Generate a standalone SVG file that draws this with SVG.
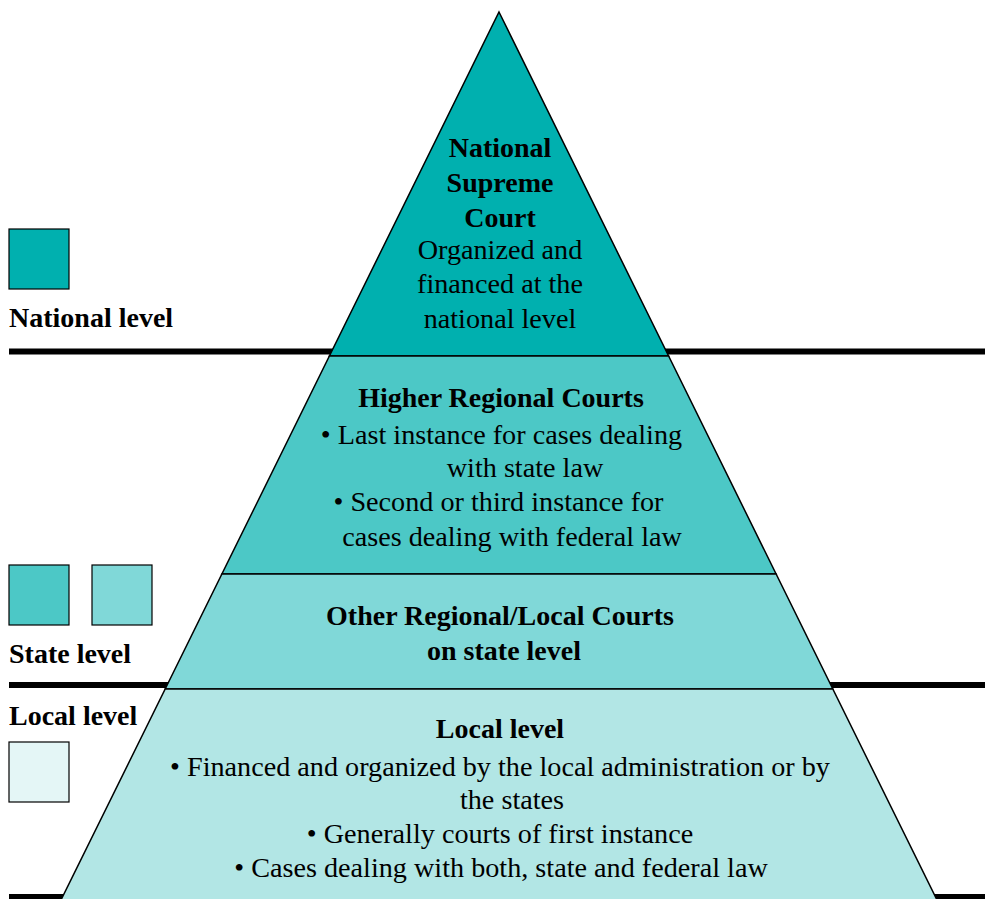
<svg xmlns="http://www.w3.org/2000/svg" width="985" height="899" viewBox="0 0 985 899">
<style>
.b{font-family:"Liberation Serif","Times New Roman",serif;font-weight:bold;font-size:28px;fill:#000}
.r{font-family:"Liberation Serif","Times New Roman",serif;font-size:28.2px;fill:#000}
.c{text-anchor:middle}
.sec{stroke:#000;stroke-width:1.5;stroke-linejoin:miter}
.sq{stroke:#000;stroke-width:1.2}
.rule{fill:#000}
</style>
<rect width="985" height="899" fill="#fff"/>
<g id="rules">
<rect class="rule" x="9" y="348.5" width="976" height="6"/>
<rect class="rule" x="9" y="682" width="976" height="6"/>
<rect class="rule" x="9" y="894" width="976" height="6"/>
</g>
<g id="national">
<polygon class="sec" fill="#00B0AF" points="499,12 668.6,356 329.4,356"/>
<text class="b c" x="500" y="157">National</text>
<text class="b c" x="500" y="192">Supreme</text>
<text class="b c" x="500" y="227">Court</text>
<text class="r c" x="500" y="259">Organized and</text>
<text class="r c" x="500" y="293">financed at the</text>
<text class="r c" x="500" y="328">national level</text>
</g>
<g id="higher">
<polygon class="sec" fill="#4CC8C6" points="329.4,356 668.6,356 776.1,574 221.9,574"/>
<text class="b c" x="501" y="407">Higher Regional Courts</text>
<text class="r c" x="501.5" y="444">• Last instance for cases dealing</text>
<text class="r c" x="525" y="477">with state law</text>
<text class="r c" x="498.5" y="511">• Second or third instance for</text>
<text class="r c" x="512" y="546">cases dealing with federal law</text>
</g>
<g id="other">
<polygon class="sec" fill="#80D8D8" points="221.9,574 776.1,574 832.8,689 165.2,689"/>
<text class="b c" x="500" y="625">Other Regional/Local Courts</text>
<text class="b c" x="504" y="660">on state level</text>
</g>
<g id="local">
<polygon class="sec" fill="#B2E6E5" points="165.2,689 832.8,689 938.5,903 59.5,903"/>
<text class="b c" x="500" y="738">Local level</text>
<text class="r c" x="500" y="776">• Financed and organized by the local administration or by</text>
<text class="r c" x="512" y="809">the states</text>
<text class="r c" x="500" y="843">• Generally courts of first instance</text>
<text class="r c" x="501" y="877">• Cases dealing with both, state and federal law</text>
</g>
<g id="legend-national">
<rect class="sq" x="9" y="229" width="60" height="60" fill="#00B0AF"/>
<text class="b" x="9" y="327">National level</text>
</g>
<g id="legend-state">
<rect class="sq" x="9" y="565" width="60" height="60" fill="#4CC8C6"/>
<rect class="sq" x="92" y="565" width="60" height="60" fill="#80D8D8"/>
<text class="b" x="9" y="663">State level</text>
</g>
<g id="legend-local">
<text class="b" x="9" y="725">Local level</text>
<rect class="sq" x="9" y="742" width="60" height="60" fill="#E4F6F6"/>
</g>
</svg>
